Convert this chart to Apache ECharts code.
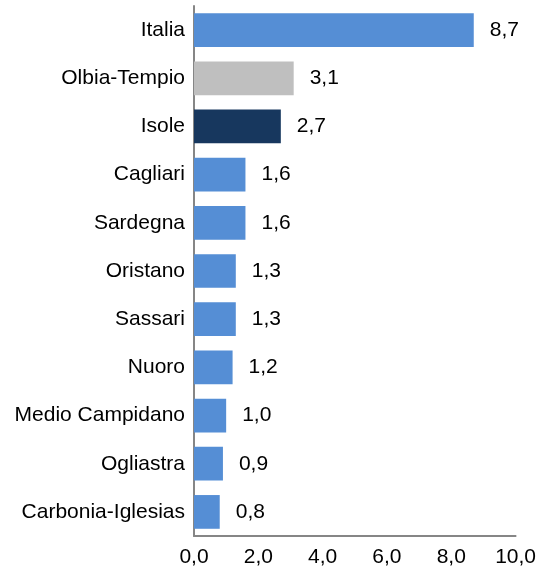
<!DOCTYPE html>
<html>
<head>
<meta charset="utf-8">
<script src="https://cdn.jsdelivr.net/npm/echarts@6/dist/echarts.min.js"></script>
<style>
  html, body { margin: 0; padding: 0; background: #fff; }
  #chart { width: 539px; height: 570px; }
</style>
</head>
<body>
<div id="chart"></div>
<script>
// Categories listed top to bottom
const categories = ['Italia', 'Olbia-Tempio', 'Isole', 'Cagliari', 'Sardegna', 'Oristano',
  'Sassari', 'Nuoro', 'Medio Campidano', 'Ogliastra', 'Carbonia-Iglesias'];
const values = [8.7, 3.1, 2.7, 1.6, 1.6, 1.3, 1.3, 1.2, 1.0, 0.9, 0.8];
const barColors = ['#558ED5', '#BFBFBF', '#17375E', '#558ED5', '#558ED5', '#558ED5',
  '#558ED5', '#558ED5', '#558ED5', '#558ED5', '#558ED5'];
const xTicks = [0, 2, 4, 6, 8, 10];

const fmt = v => v.toFixed(1).replace('.', ',');

// Category axis runs bottom-up, so reverse to keep Italia on top
const cats = categories.slice().reverse();
const data = values.map((v, i) => ({ value: v, itemStyle: { color: barColors[i] } })).reverse();

const FONT = 21;

const chart = echarts.init(document.getElementById('chart'), null, { renderer: 'canvas' });
chart.setOption({
  animation: false,
  backgroundColor: '#ffffff',
  textStyle: { fontFamily: 'Liberation Sans, Arial, sans-serif' },
  grid: { left: 194, right: 23, top: 6, bottom: 34, containLabel: false },
  xAxis: {
    type: 'value',
    min: xTicks[0],
    max: xTicks[xTicks.length - 1],
    interval: 2,
    axisLine: { show: true, lineStyle: { color: '#868686', width: 2 } },
    axisTick: { show: false },
    splitLine: { show: false },
    axisLabel: { color: '#000', fontSize: FONT, margin: 11, formatter: v => fmt(v) }
  },
  yAxis: {
    type: 'category',
    data: cats,
    axisLine: { show: true, lineStyle: { color: '#868686', width: 2 } },
    axisTick: { show: false },
    axisLabel: { color: '#000', fontSize: FONT, margin: 9 }
  },
  series: [{
    type: 'bar',
    data: data,
    barCategoryGap: '30%',
    label: {
      show: true,
      position: 'right',
      distance: 16,
      color: '#000',
      fontSize: FONT,
      formatter: p => fmt(p.value)
    }
  }]
});
</script>
</body>
</html>
